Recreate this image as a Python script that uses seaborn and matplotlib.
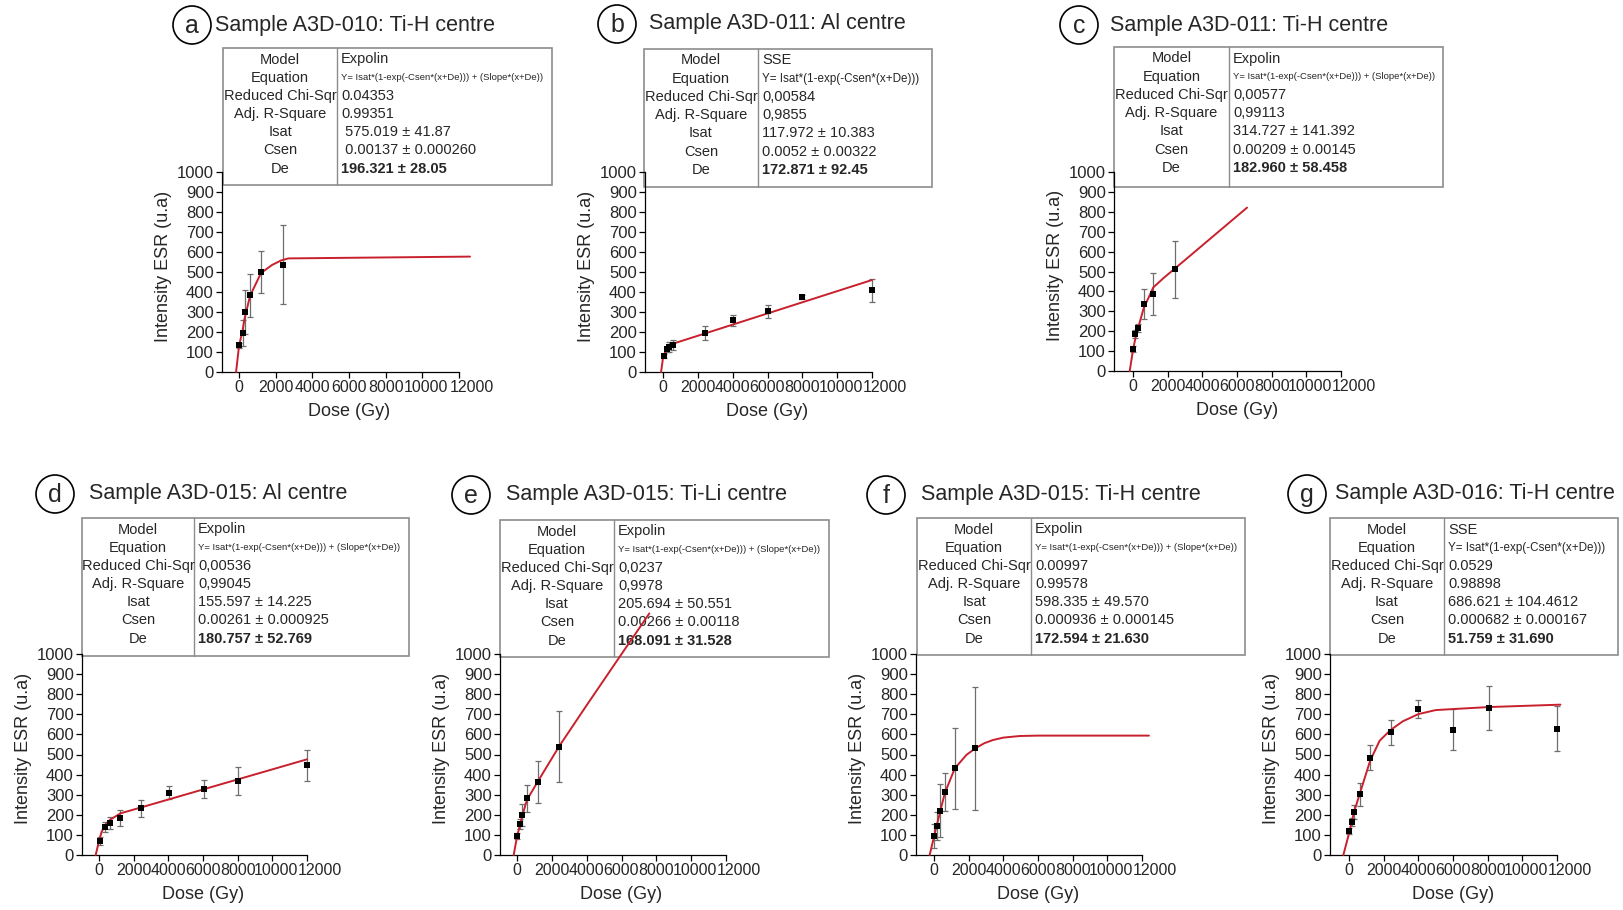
import numpy as np
import pandas as pd
import seaborn as sns
import matplotlib.pyplot as plt
from matplotlib.patches import Rectangle, Circle
from matplotlib.lines import Line2D
from matplotlib.transforms import ScaledTranslation

sns.set_theme(style="ticks")
plt.rcParams['font.family'] = ['Liberation Sans', 'DejaVu Sans']

W, H = 1623, 910

# ---------------- data ----------------
letters = ['a', 'b', 'c', 'd', 'e', 'f', 'g']
titles = ['Sample A3D-010: Ti-H centre', 'Sample A3D-011: Al centre',
          'Sample A3D-011: Ti-H centre', 'Sample A3D-015: Al centre',
          'Sample A3D-015: Ti-Li centre', 'Sample A3D-015: Ti-H centre',
          'Sample A3D-016: Ti-H centre']
models = ['Expolin', 'SSE', 'Expolin', 'Expolin', 'Expolin', 'Expolin', 'SSE']
chi_sqr = ['0.04353', '0,00584', '0,00577', '0,00536', '0,0237', '0.00997', '0.0529']
adj_r2 = ['0.99351', '0,9855', '0,99113', '0,99045', '0,9978', '0.99578', '0.98898']
isat = [' 575.019 ± 41.87', '117.972 ± 10.383', '314.727 ± 141.392', '155.597 ± 14.225',
        '205.694 ± 50.551', '598.335 ± 49.570', '686.621 ± 104.4612']
csen = [' 0.00137 ± 0.000260', '0.0052 ± 0.00322', '0.00209 ± 0.00145', '0.00261 ± 0.000925',
        '0.00266 ± 0.00118', '0.000936 ± 0.000145', '0.000682 ± 0.000167']
de = ['196.321 ± 28.05', '172.871 ± 92.45', '182.960 ± 58.458', '180.757 ± 52.769',
      '168.091 ± 31.528', '172.594 ± 21.630', '51.759 ± 31.690']
equations = {'Expolin': 'Y= Isat*(1-exp(-Csen*(x+De))) + (Slope*(x+De))',
             'SSE': 'Y= Isat*(1-exp(-Csen*(x+De)))'}
row_names = ['Model', 'Equation', 'Reduced Chi-Sqr', 'Adj. R-Square', 'Isat', 'Csen', 'De']

# measured points (dose Gy, ESR intensity, error) and fitted curves
dose_a = [0, 200, 300, 600, 1200, 2400]
esr_a = [133, 195, 300, 383, 500, 537]
err_a = [12, 63, 110, 108, 105, 198]
fit_x_a = [-160, 0, 200, 300, 600, 1200, 1800, 2300, 2700, 12600]
fit_y_a = [0, 130, 210, 265, 380, 495, 535, 558, 568, 577]

dose_b = [70, 210, 360, 580, 2440, 4030, 6000, 8000, 12000]
esr_b = [81, 113, 127, 133, 195, 258, 303, 375, 408]
err_b = [10, 12, 25, 25, 37, 27, 33, 10, 58]
fit_x_b = [-110, 0, 100, 200, 400, 700, 12000]
fit_y_b = [0, 70, 95, 112, 130, 145, 460]

dose_c = [0, 140, 290, 610, 1170, 2420]
esr_c = [110, 184, 217, 336, 386, 512]
err_c = [15, 20, 20, 77, 104, 143]
fit_x_c = [-190, 0, 150, 290, 610, 1170, 1800, 2420, 6580]
fit_y_c = [0, 105, 170, 214, 314, 420, 470, 515, 821]

dose_d = [40, 330, 620, 1230, 2440, 4040, 6040, 8020, 12020]
esr_d = [71, 138, 158, 186, 232, 310, 327, 370, 446]
err_d = [20, 25, 30, 40, 43, 33, 44, 70, 77]
fit_x_d = [-190, 0, 150, 330, 620, 1230, 2440, 12000]
fit_y_d = [0, 70, 115, 144, 174, 207, 237, 476]

dose_e = [0, 150, 290, 570, 1190, 2430]
esr_e = [96, 154, 199, 282, 362, 539]
err_e = [15, 25, 57, 66, 105, 178]
fit_x_e = [-190, 0, 290, 570, 1190, 2430, 4000, 6020, 7600]
fit_y_e = [0, 91, 191, 274, 365, 542, 745, 1002, 1202]

dose_f = [0, 170, 330, 620, 1200, 2390]
esr_f = [96, 144, 221, 312, 431, 531]
err_f = [60, 70, 130, 95, 200, 306]
fit_x_f = [-250, 0, 330, 620, 1200, 1870, 2390, 2900, 3400, 4000, 4950, 6000, 12400]
fit_y_f = [0, 91, 207, 307, 431, 498, 531, 556, 572, 584, 592, 594, 594]

dose_g = [0, 190, 290, 630, 1220, 2400, 4000, 6000, 8050, 12000]
esr_g = [119, 163, 214, 303, 484, 610, 726, 624, 732, 629]
err_g = [15, 20, 33, 57, 63, 63, 43, 100, 110, 114]
fit_x_g = [-326, 0, 290, 630, 1220, 1770, 2400, 3100, 4000, 5000, 6000, 8050, 12200]
fit_y_g = [0, 107, 214, 307, 469, 569, 622, 665, 701, 721, 726, 736, 748]

points = [(dose_a, esr_a, err_a), (dose_b, esr_b, err_b), (dose_c, esr_c, err_c),
          (dose_d, esr_d, err_d), (dose_e, esr_e, err_e), (dose_f, esr_f, err_f),
          (dose_g, esr_g, err_g)]
fits = [(fit_x_a, fit_y_a), (fit_x_b, fit_y_b), (fit_x_c, fit_y_c), (fit_x_d, fit_y_d),
        (fit_x_e, fit_y_e), (fit_x_f, fit_y_f), (fit_x_g, fit_y_g)]

# ---------------- layout (pixels) ----------------
# y-axis x, dose 0 x, dose 12000 x, ESR 0 y, ESR 1000 y
axes_px = [(222, 239, 459, 372, 172), (645, 663, 872, 372, 172), (1114, 1133, 1341, 371, 172),
           (82, 99, 307, 855, 654), (500, 517, 726, 855, 654), (916, 934, 1142, 855, 654),
           (1330, 1349, 1557, 855, 654)]
# table left, right, top, bottom, divider
table_px = [(223, 552, 48, 185, 337), (644, 932, 49, 187, 758), (1114, 1443, 47, 187, 1229),
            (82, 409, 518, 656, 194), (500, 829, 520, 657, 614), (917, 1245, 518, 655, 1031),
            (1330, 1618, 518, 655, 1444)]
# circle centre, title start
title_px = [(192, 25, 215), (617, 24, 649), (1079, 25, 1110), (55, 494, 89),
            (471, 495, 506), (886, 495, 921), (1307, 494, 1335)]

RED = '#c8202d'
GREY = '#8c8c8c'

fig = plt.figure(figsize=(W / 100, H / 100), dpi=100)


def fx(px):
    return px / W


def fy(py):
    return 1 - py / H


for i in range(7):
    yax, x0, x12, y0, y1000 = axes_px[i]
    xmin = -(x0 - yax) / (x12 - x0) * 12000
    ax = fig.add_axes([fx(yax), fy(y0), (x12 - yax) / W, (y0 - y1000) / H])
    ax.patch.set_visible(False)

    dose, esr, err = points[i]
    fit_x, fit_y = fits[i]
    df_pts = pd.DataFrame({'dose': dose, 'esr': esr, 'err': err})
    df_fit = pd.DataFrame({'dose': fit_x, 'esr': fit_y})

    eb = ax.errorbar(df_pts['dose'], df_pts['esr'], yerr=df_pts['err'], fmt='none',
                     ecolor='#6e6e6e', elinewidth=0.9, capsize=2, capthick=0.9, zorder=2)
    for part in list(eb[1]) + list(eb[2]):
        part.set_clip_on(False)
    sns.lineplot(data=df_fit, x='dose', y='esr', ax=ax, color=RED, lw=1.4,
                 sort=False, estimator=None, zorder=3)
    ax.lines[-1].set_clip_on(False)
    sns.scatterplot(data=df_pts, x='dose', y='esr', ax=ax, marker='s', s=22,
                    color='black', edgecolor='black', linewidth=0, zorder=4, clip_on=False)

    ax.set_xlim(xmin, 12000)
    ax.set_ylim(0, 1000)
    ax.set_xticks(range(0, 12001, 2000))
    ax.set_yticks(range(0, 1001, 100))
    sns.despine(ax=ax)
    for sp in ax.spines.values():
        sp.set_linewidth(0.9)
        sp.set_color('black')
    ax.tick_params(axis='both', direction='out', length=4, width=0.9, color='black', pad=2)
    ax.tick_params(axis='x', labelsize=11.5)
    ax.tick_params(axis='y', labelsize=12)

    ax.set_xlabel('Dose (Gy)', fontsize=13)
    ax.set_ylabel('Intensity ESR (u.a)', fontsize=13)
    ax.xaxis.set_label_coords((6000 - xmin) / (12000 - xmin), -31 / (y0 - y1000))
    ax.yaxis.set_label_coords(-50 / (x12 - yax), 0.53)

    labels = ax.get_xticklabels()
    for lab, dx in zip(labels[-2:], [4, 13]):
        lab.set_transform(lab.get_transform() + ScaledTranslation(dx / 100, 0, fig.dpi_scale_trans))

    # fit table
    tl, tr, tt, tb, tdiv = table_px[i]
    fig.add_artist(Rectangle((fx(tl), fy(tb)), (tr - tl) / W, (tb - tt) / H,
                             transform=fig.transFigure, facecolor='white',
                             edgecolor=GREY, lw=1.2, zorder=-2))
    fig.add_artist(Line2D([fx(tdiv), fx(tdiv)], [fy(tt), fy(tb)], transform=fig.transFigure,
                          color=GREY, lw=1.0, zorder=-1))
    values = [models[i], equations[models[i]], chi_sqr[i], adj_r2[i], isat[i], csen[i], de[i]]
    for r in range(7):
        ry = tt + 11.5 + r * 18.2
        fig.text(fx((tl + tdiv) / 2), fy(ry), row_names[r], ha='center', va='center',
                 fontsize=10.5, zorder=-1)
        size = 10.5
        if r == 1:
            size = 6.8 if models[i] == 'Expolin' else 8.4
        fig.text(fx(tdiv + 4), fy(ry), values[r], ha='left', va='center', fontsize=size,
                 fontweight='bold' if r == 6 else 'normal', zorder=-1)

    # panel letter and title
    cx, cy, tx = title_px[i]
    fig.add_artist(Circle((cx / 100, (H - cy) / 100), 0.19, transform=fig.dpi_scale_trans,
                          fill=False, edgecolor='black', lw=1.2))
    fig.text(fx(cx), fy(cy + 1), letters[i], ha='center', va='center', fontsize=18)
    fig.text(fx(tx), fy(cy), titles[i], ha='left', va='center', fontsize=15.5)

fig.savefig('out.png', dpi=100)
